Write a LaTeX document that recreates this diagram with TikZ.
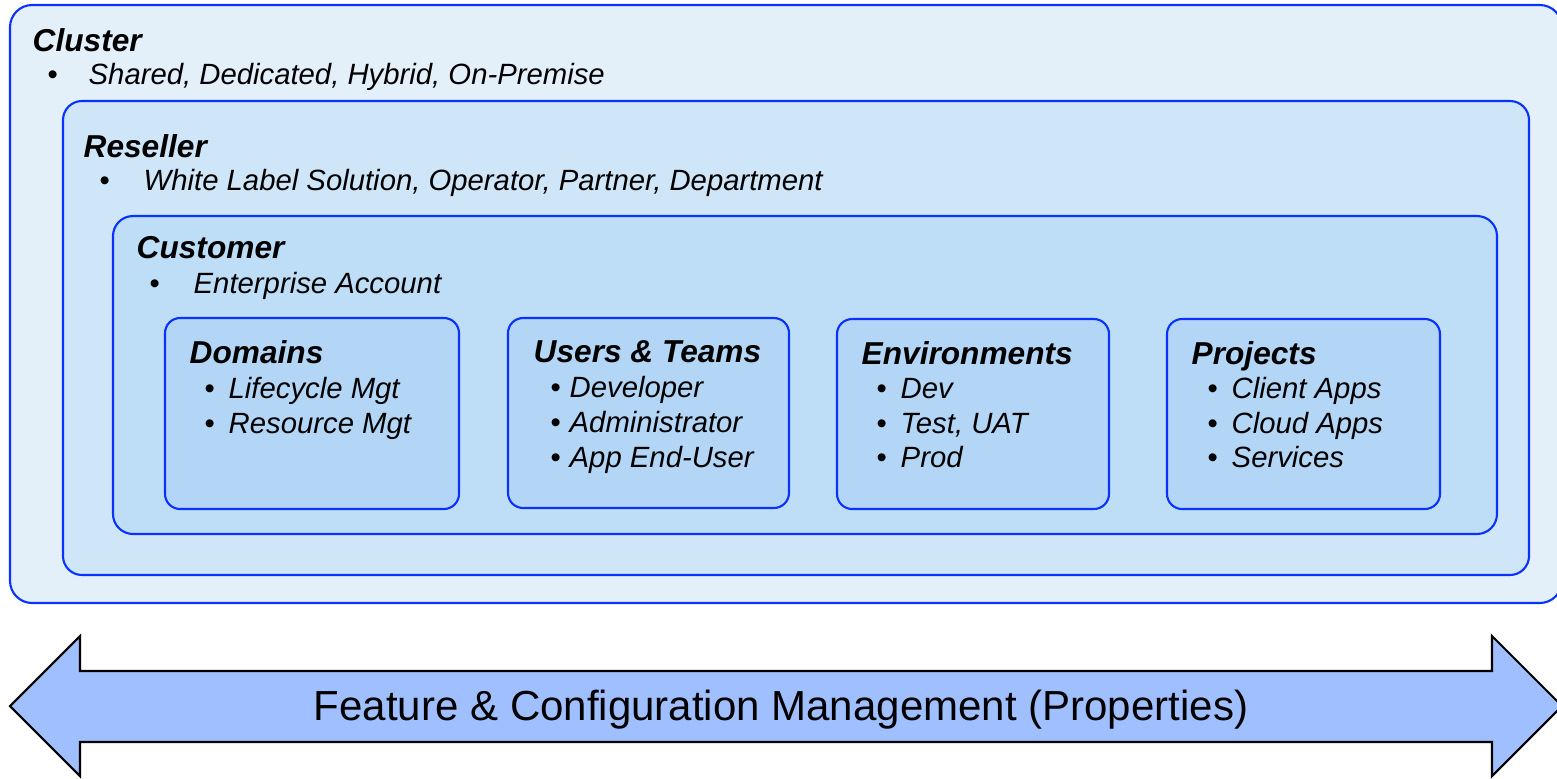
\documentclass[tikz,border=0pt]{standalone}
\usepackage{fontspec}
\setmainfont{Liberation Sans}
\usetikzlibrary{calc}

\definecolor{edgeblue}{RGB}{10,50,255}
\definecolor{clusterfill}{RGB}{227,240,250}
\definecolor{resellerfill}{RGB}{207,229,248}
\definecolor{customerfill}{RGB}{190,221,247}
\definecolor{groupfill}{RGB}{179,214,246}
\definecolor{arrowfill}{RGB}{159,191,255}

\tikzset{
  frame/.style={draw=edgeblue, line width=0.6pt},
  ttl/.style={anchor=base west, inner sep=0pt, font=\fontsize{9}{10}\selectfont\bfseries\itshape},
  itm/.style={anchor=base west, inner sep=0pt, font=\fontsize{8.33}{10}\selectfont\itshape},
  dot/.style={anchor=base west, inner sep=0pt, font=\fontsize{8.33}{10}\selectfont},
}

\begin{document}
\begin{tikzpicture}[x=0.01cm, y=-0.01cm]
\useasboundingbox (0,0) rectangle (1557,778);

% nested frames
\draw[frame, fill=clusterfill, rounded corners=6.3pt] (10,5) rectangle (1562,603);
\draw[frame, fill=resellerfill, rounded corners=5.4pt] (63,101) rectangle (1529,575);
\draw[frame, fill=customerfill, rounded corners=5.7pt] (113,216) rectangle (1497,534);
\foreach \a/\b/\c/\d in {165/318/459/509, 508/318/789/508, 837/319/1109/509, 1167/319/1440/509}
  \draw[frame, fill=groupfill, rounded corners=4.3pt] (\a,\b) rectangle (\c,\d);

% levels
\node[ttl] (cluster) at (32,51) {Cluster};
\node[dot] (clusterb) at (47,84) {\textbullet};
\node[itm] (clusteri) at (88,84) {Shared, Dedicated, Hybrid, On-Premise};

\node[ttl] (reseller) at (83,157) {Reseller};
\node[dot] (resellerb) at (99,190) {\textbullet};
\node[itm] (reselleri) at (143,190) {White Label Solution, Operator, Partner, Department};

\node[ttl] (customer) at (136,258) {Customer};
\node[dot] (customerb) at (149,293) {\textbullet};
\node[itm] (customeri) at (193,293) {Enterprise Account};

% groups
\node[ttl] (domains) at (189,363) {Domains};
\foreach \t [count=\i] in {Lifecycle Mgt, Resource Mgt}{
  \node[dot] (domainsb\i) at (204,363+35*\i) {\textbullet};
  \node[itm] (domains\i) at (228,363+35*\i) {\t};
}

\node[ttl] (users) at (533,362) {Users \& Teams};
\foreach \t [count=\i] in {Developer, Administrator, App End-User}{
  \node[dot] (usersb\i) at (550,362+35*\i) {\textbullet};
  \node[itm] (users\i) at (569,362+35*\i) {\t};
}

\node[ttl] (envs) at (861,364) {Environments};
\foreach \t [count=\i] in {Dev, {Test, UAT}, Prod}{
  \node[dot] (envsb\i) at (876,364+34.5*\i) {\textbullet};
  \node[itm] (envs\i) at (900,364+34.5*\i) {\t};
}

\node[ttl] (projects) at (1191,364) {Projects};
\foreach \t [count=\i] in {Client Apps, Cloud Apps, Services}{
  \node[dot] (projectsb\i) at (1207,364+34.5*\i) {\textbullet};
  \node[itm] (projects\i) at (1231,364+34.5*\i) {\t};
}

% double arrow
\draw[fill=arrowfill, line width=0.6pt] (10,706) -- (80,636) -- (80,671) -- (1492,671) -- (1492,636)
  -- (1562,706) -- (1492,776) -- (1492,742) -- (80,742) -- (80,776) -- cycle;
\node[inner sep=0pt, font=\fontsize{11.95}{14}\selectfont] (feature) at (781,710) {Feature \& Configuration Management (Properties)};

\end{tikzpicture}
\end{document}
